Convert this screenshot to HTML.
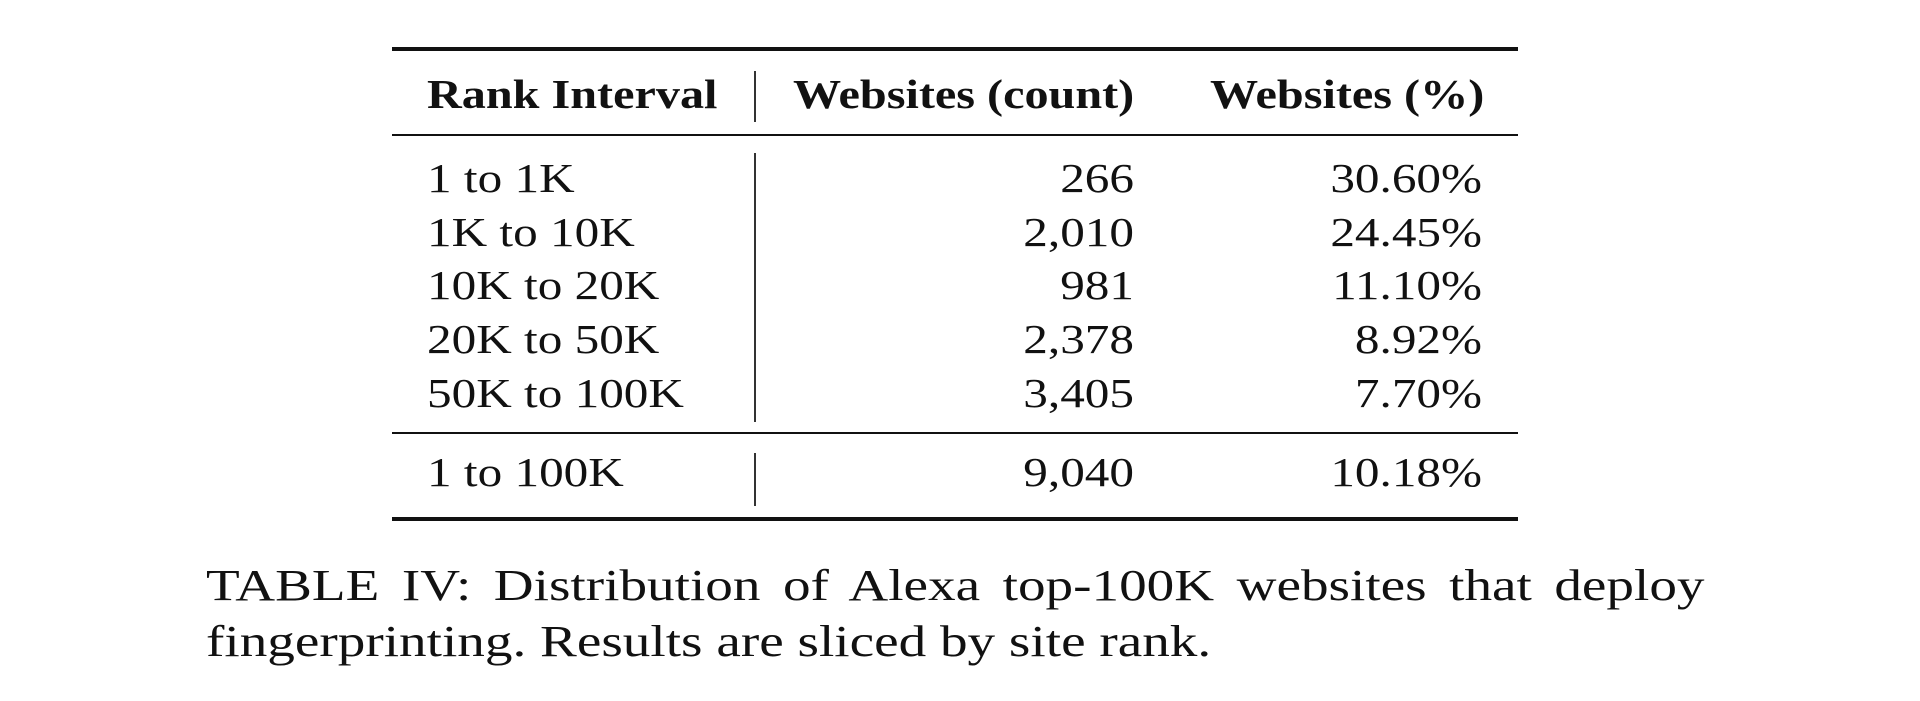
<!DOCTYPE html>
<html><head><meta charset="utf-8"><style>
body{margin:0;width:1920px;height:701px;background:#fff;position:relative;overflow:hidden;font-family:"Liberation Serif",serif;color:#111}
.t{position:absolute;font-size:41px;line-height:40px;white-space:nowrap;transform:scaleX(1.2);transform-origin:left center}
.b{font-weight:bold;transform:scaleX(1.175)}
.r{text-align:right;transform-origin:right center}
.h{position:absolute;left:392px;width:1126px;background:#111}
.v{position:absolute;left:754px;width:2px;background:#333}
.cap{position:absolute;left:206px;width:1195px;font-size:44px;line-height:43px;text-align:justify;transform:scaleX(1.254);transform-origin:left center;white-space:nowrap}
</style></head><body>
<div class="h" style="top:47px;height:4px"></div>
<div class="h" style="top:134px;height:2px"></div>
<div class="h" style="top:432px;height:2px"></div>
<div class="h" style="top:517px;height:4px"></div>
<div class="v" style="top:71px;height:51px"></div>
<div class="v" style="top:153px;height:269px"></div>
<div class="v" style="top:453px;height:53px"></div>

<div class="t b" style="left:427px;top:74px">Rank Interval</div>
<div class="t b" style="left:793px;top:74px">Websites (count)</div>
<div class="t b" style="left:1210px;top:74px">Websites (%)</div>

<div class="t" style="left:427px;top:158px">1 to 1K</div>
<div class="t" style="left:427px;top:212px">1K to 10K</div>
<div class="t" style="left:427px;top:265px">10K to 20K</div>
<div class="t" style="left:427px;top:319px">20K to 50K</div>
<div class="t" style="left:427px;top:373px">50K to 100K</div>
<div class="t" style="left:427px;top:452px">1 to 100K</div>

<div class="t r" style="left:934px;width:200px;top:158px">266</div>
<div class="t r" style="left:934px;width:200px;top:212px">2,010</div>
<div class="t r" style="left:934px;width:200px;top:265px">981</div>
<div class="t r" style="left:934px;width:200px;top:319px">2,378</div>
<div class="t r" style="left:934px;width:200px;top:373px">3,405</div>
<div class="t r" style="left:934px;width:200px;top:452px">9,040</div>

<div class="t r" style="left:1282px;width:200px;top:158px">30.60%</div>
<div class="t r" style="left:1282px;width:200px;top:212px">24.45%</div>
<div class="t r" style="left:1282px;width:200px;top:265px">11.10%</div>
<div class="t r" style="left:1282px;width:200px;top:319px">8.92%</div>
<div class="t r" style="left:1282px;width:200px;top:373px">7.70%</div>
<div class="t r" style="left:1282px;width:200px;top:452px">10.18%</div>

<div class="cap" style="top:564px;white-space:normal;text-align-last:justify">TABLE IV: Distribution of Alexa top-100K websites that deploy</div>
<div class="cap" style="top:620px;text-align:left">fingerprinting. Results are sliced by site rank.</div>
</body></html>
